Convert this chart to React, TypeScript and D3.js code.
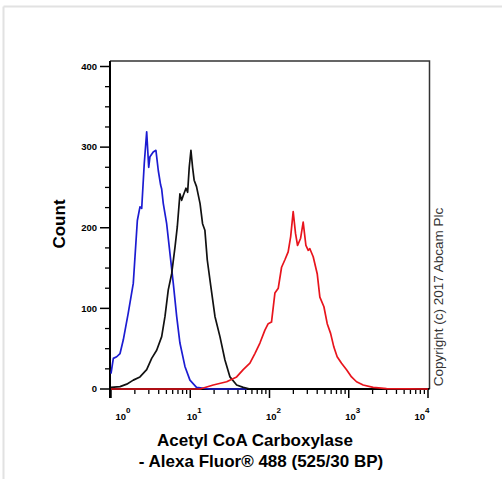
import React from 'react';
import * as d3 from 'd3';

// intensity (log axis) / count pairs
const blueX = [1.0, 1.07, 1.18, 1.3, 1.43, 1.65, 1.91, 2.15, 2.32, 2.44, 2.63, 2.82, 2.99, 3.1, 3.41, 3.69, 3.95, 4.23, 4.36, 4.57, 5.04, 5.55, 6.11, 6.74, 7.41, 8.57, 9.91, 12.0, 17.7, 31.7, 51.9];
const blueY = [19, 38, 40, 44, 61, 94, 131, 209, 226, 224, 280, 319, 275, 288, 294, 296, 271, 253, 248, 230, 205, 168, 131, 90, 57, 28, 11, 2, 0, 0, 0];

const blackX = [1.0, 1.3, 1.58, 1.91, 2.32, 2.82, 3.26, 3.77, 4.36, 4.8, 5.28, 5.83, 6.42, 6.86, 7.41, 7.79, 8.16, 8.83, 9.27, 9.71, 10.2, 10.7, 11.2, 12.0, 13.3, 14.3, 15.3, 16.4, 18.2, 20.5, 23.7, 27.4, 31.7, 38.5, 46.6, 56.6];
const blackY = [2, 3, 6, 11, 15, 24, 38, 48, 65, 90, 123, 143, 176, 201, 242, 234, 240, 249, 244, 275, 296, 275, 259, 251, 230, 205, 197, 160, 127, 90, 65, 36, 15, 5, 2, 0];

const redX = [1.0, 13.3, 19.5, 28.8, 38.5, 46.6, 56.6, 65.4, 75.7, 87.5, 96.3, 106, 117, 129, 142, 156, 172, 185, 199, 213, 226, 247, 266, 288, 308, 323, 356, 400, 432, 486, 535, 590, 649, 714, 811, 938, 1084, 1254, 1520, 2032, 2999, 10000];
const redY = [0, 0, 5, 9, 15, 24, 32, 44, 57, 73, 81, 83, 119, 125, 151, 160, 170, 189, 220, 193, 178, 187, 207, 178, 172, 174, 164, 143, 114, 102, 81, 69, 52, 40, 32, 24, 15, 9, 5, 2, 0.5, 0];

const yMajor = [0, 100, 200, 300, 400];
const xDecades = [0, 1, 2, 3, 4];

const series = [
  { xs: blueX, ys: blueY, color: '#1c1cd2' },
  { xs: blackX, ys: blackY, color: '#111111' },
  { xs: redX, ys: redY, color: '#e8141c' },
];

export default function App() {
  const x = d3.scaleLog().domain([1, 10000]).range([111, 428]);
  const y = d3.scaleLinear().domain([0, 400]).range([389, 66.5]);
  const [x0, x1] = x.range();

  const line = d3
    .line<[number, number]>()
    .x((d) => x(d[0]))
    .y((d) => y(d[1]));

  const yMinor = d3.range(0, 401, 25).filter((v) => v % 100 !== 0);
  const xMinor: number[] = [];
  for (let e = 0; e < 4; e++) for (let m = 2; m < 10; m++) xMinor.push(m * Math.pow(10, e));

  const bold = { fontFamily: 'Liberation Sans, Arial, sans-serif', fontWeight: 700 };

  return (
    <svg width={502} height={479} style={{ position: 'absolute', left: 0, top: 0, background: '#fff' }}>
      {/* faint outer border */}
      <line x1={3.5} x2={502} y1={6.5} y2={6.5} stroke="#e2e2e2" strokeWidth={2} />
      <line x1={3.5} x2={3.5} y1={6.5} y2={479} stroke="#e2e2e2" strokeWidth={2} />

      {/* frame */}
      <path d={`M${x0 - 1},61 H${x1 + 1.5} V389`} fill="none" stroke="#333" strokeWidth={1.5} />

      {/* y axis */}
      <line x1={110} x2={110} y1={61} y2={398} stroke="#000" strokeWidth={2} />
      {yMajor.map((v) => (
        <g key={'ym' + v}>
          <line x1={100} x2={110} y1={y(v)} y2={y(v)} stroke="#000" strokeWidth={1.5} />
          <text x={97} y={y(v) + 3.2} textAnchor="end" fontSize={9.5} style={bold}>
            {v}
          </text>
        </g>
      ))}
      {yMinor.map((v) => (
        <line key={'yn' + v} x1={105} x2={110} y1={y(v)} y2={y(v)} stroke="#000" strokeWidth={1.3} />
      ))}

      {/* x axis */}
      <line x1={110} x2={x1 + 1.5} y1={389} y2={389} stroke="#000" strokeWidth={2} />
      {xMinor.map((v) => (
        <line key={'xn' + v} x1={x(v)} x2={x(v)} y1={389} y2={394} stroke="#000" strokeWidth={1.3} />
      ))}
      {xDecades.map((e) => {
        const px = x(Math.pow(10, e));
        const lx = Math.min(Math.max(px + 4, x0 + 12), x1 - 6);
        return (
          <g key={'xm' + e}>
            <line x1={px} x2={px} y1={389} y2={398} stroke="#000" strokeWidth={1.5} />
            <text x={lx} y={420} textAnchor="middle" fontSize={9.5} style={bold}>
              10
              <tspan dy={-7} fontSize={8}>
                {e}
              </tspan>
            </text>
          </g>
        );
      })}

      {/* histograms */}
      {series.map((s, i) => (
        <path
          key={i}
          d={line(s.xs.map((v, j) => [v, s.ys[j]] as [number, number])) || ''}
          fill="none"
          stroke={s.color}
          strokeWidth={1.7}
          strokeLinejoin="round"
        />
      ))}

      {/* titles */}
      <text x={255} y={446} textAnchor="middle" fontSize={17} style={bold}>
        Acetyl CoA Carboxylase
      </text>
      <text x={261} y={467} textAnchor="middle" fontSize={17} style={bold}>
        - Alexa Fluor® 488 (525/30 BP)
      </text>
      <text transform="translate(65,224) rotate(-90)" textAnchor="middle" fontSize={17} style={bold}>
        Count
      </text>
      <text
        transform="translate(443,297) rotate(-90)"
        textAnchor="middle"
        fontSize={13.5}
        fill="#333"
        style={{ fontFamily: 'Liberation Sans, Arial, sans-serif' }}
      >
        Copyright (c) 2017 Abcam Plc
      </text>
    </svg>
  );
}
